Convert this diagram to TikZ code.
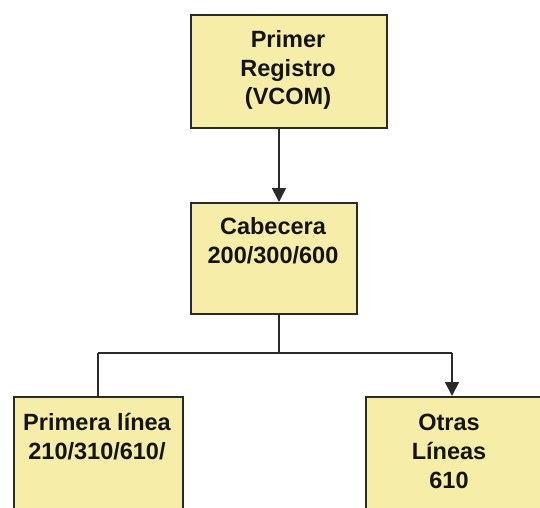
\documentclass[tikz,border=0pt]{standalone}
\usepackage{fontspec}
\setmainfont{Liberation Sans}
\usetikzlibrary{arrows.meta}
\definecolor{boxfill}{HTML}{F6EEA8}
\definecolor{edge}{HTML}{2A2A2A}
\tikzset{
  box/.style={draw=edge, line width=1.8pt, fill=boxfill, rectangle, inner sep=0pt, anchor=north west},
  lbl/.style={anchor=base, inner sep=0pt, font=\fontsize{23.5}{28}\selectfont\bfseries, text=black!92},
  link/.style={draw=edge, line width=1.8pt},
  arr/.style={link, -{Triangle[width=14pt,length=14pt]}}
}
\begin{document}
\begin{tikzpicture}[x=1pt,y=-1pt]
  \useasboundingbox (0,0) rectangle (540,507);
  \clip (0,0) rectangle (540,507);

  % boxes
  \node[box, minimum width=196pt, minimum height=113pt] (reg) at (190,14) {};
  \node[box, minimum width=166pt, minimum height=111pt] (cab) at (190,202) {};
  \node[box, minimum width=169pt, minimum height=130pt] (pl) at (13,396) {};
  \node[box, minimum width=190pt, minimum height=130pt] (ol) at (365,396) {};

  % labels
  \node[lbl] (reg1) at (288,47) {Primer};
  \node[lbl] (reg2) at (288,76) {Registro};
  \node[lbl] (reg3) at (288,104) {(VCOM)};
  \node[lbl] (cab1) at (273,234) {Cabecera};
  \node[lbl] (cab2) at (273,263) {200/300/600};
  \node[lbl] (pl1) at (97,430) {Primera línea};
  \node[lbl] (pl2) at (97,459) {210/310/610/};
  \node[lbl] (ol1) at (449,430) {Otras};
  \node[lbl] (ol2) at (449,459) {Líneas};
  \node[lbl] (ol3) at (449,488) {610};

  % connector guides
  \coordinate (trunk) at (279,0);
  \coordinate (split) at (279,353);
  \coordinate (lx) at (98,0);
  \coordinate (rx) at (452,0);

  % connectors
  \draw[arr] (reg.south -| trunk) -- (cab.north -| trunk);
  \draw[link] (cab.south -| trunk) -- (split);
  \draw[link] (split -| lx) -- (split -| rx);
  \draw[link] (split -| lx) -- (pl.north -| lx);
  \draw[arr] (split -| rx) -- (ol.north -| rx);
\end{tikzpicture}
\end{document}
